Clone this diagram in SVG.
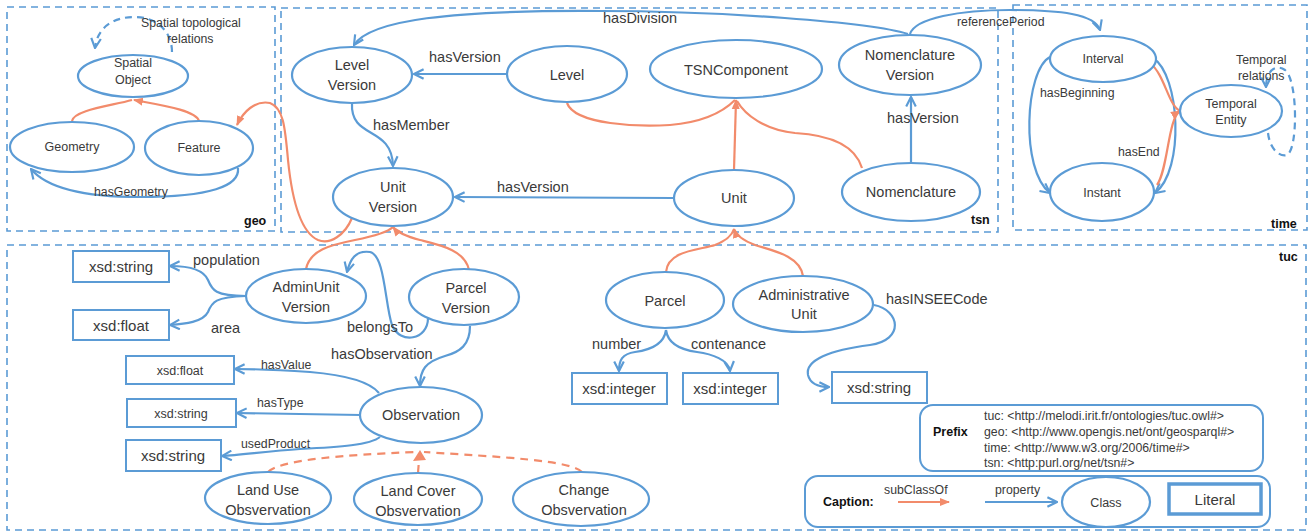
<svg xmlns="http://www.w3.org/2000/svg" width="1310" height="532" viewBox="0 0 1310 532">
<defs>
<style>
text{font-family:"Liberation Sans",Arial,sans-serif;fill:#3a3a3a}
.n{fill:#fff;stroke:#5b9bd5;stroke-width:2.2}
.lit{fill:#fff;stroke:#5b9bd5;stroke-width:2}
.box{fill:none;stroke:#5b9bd5;stroke-width:1.6;stroke-dasharray:7 5}
.t{font-size:14.5px;text-anchor:middle}
.ts{font-size:12.5px;text-anchor:middle}
.p{font-size:14.5px}
.ps{font-size:12.3px}
.b{font-size:12.5px;font-weight:bold;fill:#111}
.e{fill:none;stroke:#5b9bd5;stroke-width:2.2;marker-end:url(#ab)}
.ed{fill:none;stroke:#5b9bd5;stroke-width:2.2;stroke-dasharray:7 5;marker-end:url(#ab)}
.s{fill:none;stroke:#f28b6b;stroke-width:2.2}
.sa{fill:none;stroke:#f28b6b;stroke-width:2.2;marker-end:url(#ao)}
.sd{fill:none;stroke:#f28b6b;stroke-width:2.2;stroke-dasharray:8 6}
.pre{font-size:12.3px}
</style>
<marker id="ab" viewBox="0 0 10 10" refX="9" refY="5" markerWidth="12" markerHeight="12" orient="auto" markerUnits="userSpaceOnUse">
<path d="M1,1 L9,5 L1,9" fill="none" stroke="#5b9bd5" stroke-width="1.8"/>
</marker>
<marker id="ao" viewBox="0 0 10 10" refX="9" refY="5" markerWidth="10" markerHeight="10" orient="auto" markerUnits="userSpaceOnUse">
<path d="M0,1 L10,5 L0,9 z" fill="#f28b6b"/>
</marker>
</defs>
<rect width="1310" height="532" fill="#fff"/>

<g id="groups">
<rect class="box" x="7" y="7" width="268" height="224"/>
<text class="b" x="244" y="225">geo</text>
<rect class="box" x="281" y="8" width="717" height="224"/>
<text class="b" x="971" y="224">tsn</text>
<rect class="box" x="1013" y="5" width="294" height="225"/>
<text class="b" x="1271" y="228">time</text>
<rect class="box" x="7" y="245" width="1299" height="285"/>
<text class="b" x="1279" y="261">tuc</text>
</g>

<g id="connectors">
<!-- geo -->
<path class="s" d="M72 121 C74 110 110 106 132 100"/>
<path class="sa" d="M199 121 C196 110 160 105 134 100"/>
<path class="e" d="M238 168 C240 186 210 197 140 197 C80 197 45 186 31 169"/>
<path class="ed" d="M172 52 C172 30 155 17 135 17 C110 17 97 30 95 48"/>
<!-- tsn -->
<path class="e" d="M908 34 C870 22 720 11 600 11 C450 10 370 20 354 45"/>
<path class="e" d="M910 34 C915 18 960 10 1010 10 C1060 10 1095 14 1100 30"/>
<path class="e" d="M507 74 L414 74"/>
<path class="e" d="M352 103 C350 140 392 125 393 166"/>
<path class="e" d="M674 198 L455 197"/>
<path class="e" d="M911 163 L911 97"/>
<path class="s" d="M567 103 C575 125 640 127 670 125 C705 122 725 110 735 100"/>
<path class="s" d="M862 168 C855 145 830 135 795 133 C765 130 745 115 737 101"/>
<path class="sa" d="M734 170 L736 100"/>
<!-- time -->
<path class="e" d="M1050 57 C1025 70 1020 170 1050 193"/>
<path class="e" d="M1153 58 C1180 75 1185 170 1155 193"/>
<path class="s" d="M1150 63 C1165 75 1168 105 1180 111"/>
<path class="sa" d="M1157 185 C1168 170 1168 118 1180 111"/>
<path class="ed" d="M1268 133 C1270 150 1280 157 1287 155 C1298 150 1298 80 1285 70 C1275 63 1266 72 1266 87"/>
<!-- tuc -> tsn / geo -->
<path class="s" d="M306 269 C310 250 330 245 355 240 C375 236 388 232 393 227"/>
<path class="sa" d="M469 270 C465 250 440 245 420 240 C405 236 397 232 393 227"/>
<path class="s" d="M666 272 C668 250 700 250 715 245 C728 240 732 235 734 229"/>
<path class="sa" d="M803 276 C800 255 770 250 755 245 C742 240 736 235 734 229"/>
<path class="sa" d="M352 218 C345 235 330 245 318 240 C300 232 292 200 288 160 C285 125 283 108 270 103 C255 100 243 112 237 125"/>
<!-- tuc -->
<path class="e" d="M246 296 C215 296 212 290 208 280 C203 268 185 266 170 266"/>
<path class="e" d="M246 296 C215 297 212 302 208 312 C203 322 185 324 170 325"/>
<path class="e" d="M428 318 C428 340 400 345 392 325 C385 305 385 255 370 252 C355 250 350 260 347 272"/>
<path class="e" d="M470 326 C470 345 460 352 445 356 C425 362 420 370 420 386"/>
<path class="e" d="M379 393 C370 382 345 375 310 372 C280 370 255 369 235 369"/>
<path class="e" d="M361 415 L237 413"/>
<path class="e" d="M380 437 C370 445 340 447 300 449 C270 451 240 455 222 456"/>
<path class="sd" d="M268 472 C280 460 340 455 416 452"/>
<path class="sd" d="M582 472 C570 460 500 457 424 452"/>
<path class="sd" d="M418 473 L419 460"/>
<path d="M413 461 L420 450 L426 460 z" fill="#f28b6b"/>
<path class="e" d="M666 330 C664 345 650 350 635 352 C622 354 619 360 619 371"/>
<path class="e" d="M666 330 C668 345 682 350 697 352 C712 354 729 360 730 371"/>
<path class="e" d="M874 305 C900 310 905 340 870 345 C830 350 805 360 808 375 C810 383 818 387 829 387"/>
</g>

<g id="edge-labels">
<text class="ps" x="141" y="27">Spatial topological</text>
<text class="ps" x="167" y="43">relations</text>
<text class="ps" x="94" y="196">hasGeometry</text>
<text class="p" x="603" y="23">hasDivision</text>
<text class="ps" x="957" y="26">referencePeriod</text>
<text class="p" x="429" y="62">hasVersion</text>
<text class="p" x="373" y="130">hasMember</text>
<text class="p" x="497" y="192">hasVersion</text>
<text class="p" x="887" y="123">hasVersion</text>
<text class="ps" x="1040" y="97">hasBeginning</text>
<text class="ps" x="1118" y="156">hasEnd</text>
<text class="ps" x="1236" y="64">Temporal</text>
<text class="ps" x="1238" y="80">relations</text>
<text class="p" x="193" y="265">population</text>
<text class="p" x="211" y="333">area</text>
<text class="p" x="347" y="332">belongsTo</text>
<text class="p" x="331" y="359">hasObservation</text>
<text class="ps" x="261" y="369">hasValue</text>
<text class="ps" x="257" y="407">hasType</text>
<text class="ps" x="241" y="448">usedProduct</text>
<text class="p" x="592" y="349">number</text>
<text class="p" x="691" y="349">contenance</text>
<text class="p" x="886" y="304">hasINSEECode</text>
</g>

<g id="SpatialObject"><ellipse class="n" cx="133" cy="76" rx="55" ry="21"/><text class="ts" x="133" y="67">Spatial</text><text class="ts" x="133" y="84">Object</text></g>
<g id="Geometry"><ellipse class="n" cx="72" cy="147" rx="62" ry="25"/><text class="ts" x="72" y="151">Geometry</text></g>
<g id="Feature"><ellipse class="n" cx="199" cy="148" rx="54" ry="27"/><text class="ts" x="199" y="152">Feature</text></g>

<g id="LevelVersion"><ellipse class="n" cx="352" cy="75" rx="60" ry="28"/><text class="t" x="352" y="70">Level</text><text class="t" x="352" y="90">Version</text></g>
<g id="Level"><ellipse class="n" cx="567" cy="74" rx="60" ry="28"/><text class="t" x="567" y="80">Level</text></g>
<g id="TSNComponent"><ellipse class="n" cx="736" cy="69" rx="86" ry="29"/><text class="t" x="736" y="75">TSNComponent</text></g>
<g id="NomenclatureVersion"><ellipse class="n" cx="910" cy="65" rx="71" ry="30"/><text class="t" x="910" y="60">Nomenclature</text><text class="t" x="910" y="80">Version</text></g>
<g id="UnitVersion"><ellipse class="n" cx="393" cy="197" rx="60" ry="29"/><text class="t" x="393" y="192">Unit</text><text class="t" x="393" y="212">Version</text></g>
<g id="Unit"><ellipse class="n" cx="734" cy="198" rx="60" ry="28"/><text class="t" x="734" y="203">Unit</text></g>
<g id="Nomenclature"><ellipse class="n" cx="911" cy="192" rx="69" ry="29"/><text class="t" x="911" y="197">Nomenclature</text></g>

<g id="Interval"><ellipse class="n" cx="1103" cy="59" rx="53" ry="23"/><text class="ts" x="1103" y="63">Interval</text></g>
<g id="TemporalEntity"><ellipse class="n" cx="1231" cy="111" rx="51" ry="26"/><text class="ts" x="1231" y="108">Temporal</text><text class="ts" x="1231" y="124">Entity</text></g>
<g id="Instant"><ellipse class="n" cx="1102" cy="192" rx="52" ry="29"/><text class="ts" x="1102" y="197">Instant</text></g>

<g id="AdminUnitVersion"><ellipse class="n" cx="306" cy="296" rx="60" ry="27"/><text class="t" x="306" y="292">AdminUnit</text><text class="t" x="306" y="312">Version</text></g>
<g id="ParcelVersion"><ellipse class="n" cx="464" cy="297" rx="55" ry="28"/><text class="t" x="466" y="293">Parcel</text><text class="t" x="466" y="313">Version</text></g>
<g id="Parcel"><ellipse class="n" cx="665" cy="300" rx="59" ry="28"/><text class="t" x="665" y="306">Parcel</text></g>
<g id="AdministrativeUnit"><ellipse class="n" cx="803" cy="304" rx="70" ry="28"/><text class="t" x="804" y="300">Administrative</text><text class="t" x="804" y="319">Unit</text></g>
<g id="Observation"><ellipse class="n" cx="421" cy="415" rx="61" ry="28"/><text class="t" x="421" y="420">Observation</text></g>
<g id="LandUseObservation"><ellipse class="n" cx="268" cy="498" rx="63" ry="26"/><text class="t" x="268" y="495">Land Use</text><text class="t" x="268" y="515">Obsvervation</text></g>
<g id="LandCoverObservation"><ellipse class="n" cx="418" cy="499" rx="64" ry="26"/><text class="t" x="418" y="496">Land Cover</text><text class="t" x="418" y="516">Obsvervation</text></g>
<g id="ChangeObservation"><ellipse class="n" cx="581" cy="499" rx="68" ry="27"/><text class="t" x="584" y="495">Change</text><text class="t" x="584" y="515">Obsvervation</text></g>

<g id="lit-population"><rect class="lit" x="73" y="251" width="96" height="31"/><text class="t" x="121" y="272" style="font-size:15px">xsd:string</text></g>
<g id="lit-area"><rect class="lit" x="73" y="310" width="96" height="30"/><text class="t" x="121" y="331" style="font-size:15px">xsd:float</text></g>
<g id="lit-hasValue"><rect class="lit" x="126" y="356" width="108" height="28"/><text class="ts" x="180" y="375">xsd:float</text></g>
<g id="lit-hasType"><rect class="lit" x="127" y="399" width="109" height="28"/><text class="ts" x="181" y="418">xsd:string</text></g>
<g id="lit-usedProduct"><rect class="lit" x="126" y="440" width="95" height="31"/><text class="t" x="173" y="461" style="font-size:15px">xsd:string</text></g>
<g id="lit-number"><rect class="lit" x="572" y="373" width="95" height="31"/><text class="t" x="619" y="394" style="font-size:15px">xsd:integer</text></g>
<g id="lit-contenance"><rect class="lit" x="683" y="373" width="95" height="31"/><text class="t" x="730" y="394" style="font-size:15px">xsd:integer</text></g>
<g id="lit-hasINSEECode"><rect class="lit" x="832" y="372" width="95" height="31"/><text class="t" x="879" y="393" style="font-size:15px">xsd:string</text></g>

<g id="prefix">
<rect x="920" y="405" width="343" height="66" rx="13" fill="#fff" stroke="#5b9bd5" stroke-width="2"/>
<text class="b" x="933" y="436">Prefix</text>
<text class="pre" x="984" y="420">tuc: &lt;http://melodi.irit.fr/ontologies/tuc.owl#&gt;</text>
<text class="pre" x="984" y="436">geo: &lt;http://www.opengis.net/ont/geosparql#&gt;</text>
<text class="pre" x="984" y="452">time: &lt;http://www.w3.org/2006/time#&gt;</text>
<text class="pre" x="984" y="467">tsn: &lt;http:purl.org/net/tsn#&gt;</text>
</g>

<g id="caption">
<rect x="805" y="476" width="465" height="51" rx="13" fill="#fff" stroke="#5b9bd5" stroke-width="2"/>
<text class="b" x="823" y="506">Caption:</text>
<text class="ps" x="884" y="494">subClassOf</text>
<path class="sa" d="M898 502 L949 502"/>
<text class="ps" x="995" y="494">property</text>
<path class="e" d="M985 502 L1057 502"/>
<ellipse class="n" cx="1106" cy="502" rx="44" ry="25"/>
<text class="ts" x="1106" y="507">Class</text>
<rect x="1169" y="484" width="92" height="30" fill="#fff" stroke="#5b9bd5" stroke-width="3.5"/>
<text class="t" x="1215" y="505" style="font-size:15px">Literal</text>
</g>
</svg>
